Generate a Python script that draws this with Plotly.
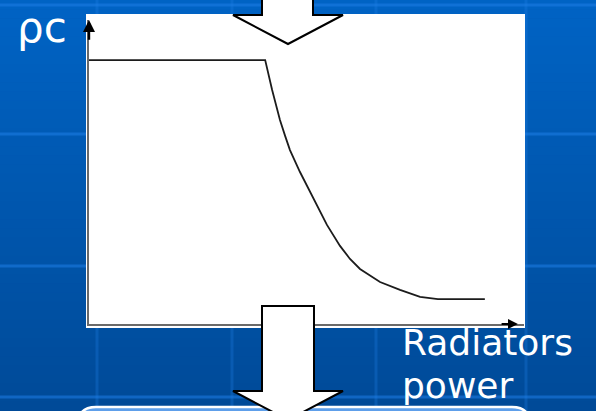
import plotly.graph_objects as go

# ---- data (arbitrary units: radiators power 0-100, rho_c 0-100) ----
power = [0.0, 40.5, 42.1, 43.9, 45.1, 46.2, 48.5, 51.5, 54.7, 57.7, 60.0, 62.3, 64.6, 66.9, 71.5, 76.1, 80.2, 91.0]
rho_c = [86.8, 86.8, 77.0, 67.1, 61.8, 57.2, 50.0, 41.4, 32.6, 25.7, 21.4, 18.1, 15.8, 13.8, 11.2, 8.9, 8.2, 8.2]
y_label = "ρc"
x_label_lines = ["Radiators", "power"]

W, H = 596, 411
L, R, T, B = 89, 524, 20, 324  # plot-area pixel box (axis lines)


def P(px, py):
    """pixel -> paper coordinates"""
    return (px - L) / (R - L), (B - py) / (B - T)


def pt(px, py):
    x, y = P(px, py)
    return f"{x:.5f},{y:.5f}"


def path(points, close=True):
    s = ""
    for i, (px, py) in enumerate(points):
        s += ("M" if i == 0 else "L") + pt(px, py) + " "
    return s + ("Z" if close else "")


shapes = []
# background gradient
top_rgb = (0, 99, 196)
bot_rgb = (0, 74, 152)
n = 45
for i in range(n):
    t = i / (n - 1)
    c = tuple(int(round(a + (b - a) * t)) for a, b in zip(top_rgb, bot_rgb))
    y0 = i * H / n
    y1 = (i + 1) * H / n + 0.6
    x0, yy0 = P(-5, y0)
    x1, yy1 = P(W + 5, y1)
    shapes.append(dict(type="rect", xref="paper", yref="paper", x0=x0, x1=x1, y0=yy0, y1=yy1,
                       fillcolor=f"rgb{c}", line=dict(width=0), layer="below"))
# grid lines of the slide background
for gy in [5, 134, 266, 397]:
    x0, y0 = P(-5, gy)
    x1, _ = P(W + 5, gy)
    shapes.append(dict(type="line", xref="paper", yref="paper", x0=x0, x1=x1, y0=y0, y1=y0,
                       line=dict(color="rgba(30,125,230,0.55)", width=3), layer="below"))
for gx in [97, 232, 376, 526]:
    x0, y0 = P(gx, -5)
    _, y1 = P(gx, H + 5)
    shapes.append(dict(type="line", xref="paper", yref="paper", x0=x0, x1=x0, y0=y0, y1=y1,
                       line=dict(color="rgba(30,125,230,0.30)", width=3), layer="below"))
# white chart box
x0, y0 = P(86, 328)
x1, y1 = P(525, 14)
shapes.append(dict(type="rect", xref="paper", yref="paper", x0=x0, x1=x1, y0=y0, y1=y1,
                   fillcolor="white", line=dict(width=0), layer="below"))

# rounded box at bottom
box_path = (f"M{pt(96,407)} L{pt(512,407)} Q{pt(530,407)} {pt(530,425)} "
            f"L{pt(530,470)} L{pt(78,470)} L{pt(78,425)} Q{pt(78,407)} {pt(96,407)} Z")
shapes.append(dict(type="path", xref="paper", yref="paper", path=box_path,
                   fillcolor="#5e9fea", line=dict(color="white", width=2.5), layer="below"))
# big white arrows
shapes.append(dict(type="path", xref="paper", yref="paper",
                   path=path([(262, -10), (262, 15), (233, 15), (288, 44), (343, 15), (313, 15), (313, -10)]),
                   fillcolor="white", line=dict(color="black", width=2), layer="above"))
shapes.append(dict(type="path", xref="paper", yref="paper",
                   path=path([(262, 306), (314, 306), (314, 391), (343, 391), (288, 420), (233, 391), (262, 391)]),
                   fillcolor="white", line=dict(color="black", width=2), layer="above"))

fig = go.Figure()
fig.add_trace(go.Scatter(x=power, y=rho_c, mode="lines",
                         line=dict(color="#1c1c1c", width=1.8),
                         hoverinfo="skip", showlegend=False))

annotations = [
    # axis arrowheads
    dict(x=0, y=100, ax=0, ay=93, xref="x", yref="y", axref="x", ayref="y", text="",
         showarrow=True, arrowhead=2, arrowsize=1, arrowwidth=2.4, arrowcolor="black"),
    dict(x=98.6, y=0, ax=94.5, ay=0, xref="x", yref="y", axref="x", ayref="y", text="",
         showarrow=True, arrowhead=2, arrowsize=0.9, arrowwidth=2.2, arrowcolor="black"),
]
lx, ly = P(15, 28)
annotations.append(dict(x=lx, y=ly, xref="paper", yref="paper", text=y_label, showarrow=False,
                        xanchor="left", yanchor="middle",
                        font=dict(family="DejaVu Sans", size=42, color="white")))
for txt, cy in zip(x_label_lines, [342, 385]):
    tx, ty = P(400, cy)
    annotations.append(dict(x=tx, y=ty, xref="paper", yref="paper", text=txt, showarrow=False,
                            xanchor="left", yanchor="middle",
                            font=dict(family="DejaVu Sans", size=36, color="white")))

fig.update_layout(
    width=W, height=H,
    margin=dict(l=L, r=W - R, t=T, b=H - B, pad=0),
    paper_bgcolor="#0056ad", plot_bgcolor="rgba(0,0,0,0)",
    shapes=shapes, annotations=annotations, showlegend=False,
    xaxis=dict(range=[0, 100], showgrid=False, zeroline=False, showticklabels=False, ticks="",
               showline=True, linecolor="#6a6a6a", linewidth=2, fixedrange=True),
    yaxis=dict(range=[0, 100], showgrid=False, zeroline=False, showticklabels=False, ticks="",
               showline=True, linecolor="#6a6a6a", linewidth=2, fixedrange=True),
)
fig.write_html("out.html", config=dict(displayModeBar=False),
               post_script="document.body.style.margin='0';document.body.style.overflow='hidden';")
